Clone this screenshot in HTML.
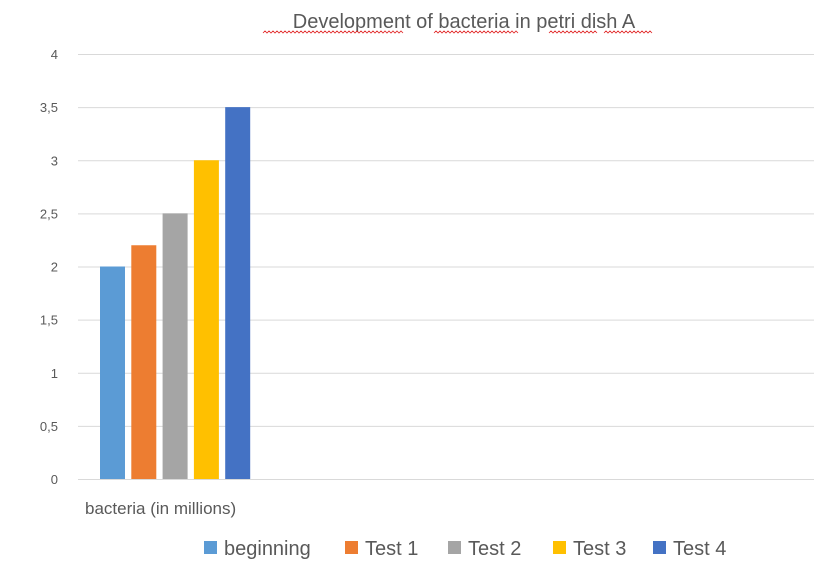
<!DOCTYPE html>
<html><head><meta charset="utf-8"><style>
body{margin:0;background:#fff;width:814px;height:562px;overflow:hidden}
svg{display:block;font-family:"Liberation Sans",sans-serif}
</style></head><body>
<svg id="chart" width="814" height="562">
<text x="464" y="28" text-anchor="middle" font-size="20" fill="#595959">Development of bacteria in petri dish A</text>
<g id="wavy"></g>
<g id="grid"></g>
<g id="yticks"></g>
<g id="bars"></g>
<text x="85" y="514" font-size="17" fill="#595959">bacteria (in millions)</text>
<g id="legend"></g>
</svg>
<script>
const series=["beginning","Test 1","Test 2","Test 3","Test 4"];
const values=[2,2.2,2.5,3,3.5];
const colors=["#5B9BD5","#ED7D31","#A5A5A5","#FFC000","#4472C4"];
const ticks=["0","0,5","1","1,5","2","2,5","3","3,5","4"];
const tickVals=[0,0.5,1,1.5,2,2.5,3,3.5,4];
const NS="http://www.w3.org/2000/svg";
function y(v){return 479-v*106.25;}
function xb(i){return 100+i*31.3;}
function mk(t,a,p){const e=document.createElementNS(NS,t);for(const k in a)e.setAttribute(k,a[k]);p.appendChild(e);return e;}
const grid=document.getElementById('grid'),yt=document.getElementById('yticks'),bars=document.getElementById('bars'),lg=document.getElementById('legend'),wv=document.getElementById('wavy');
tickVals.forEach((v,i)=>{
 const l=mk('line',{x1:78,x2:814,y1:y(v)+0.5,y2:y(v)+0.5,stroke:'#D9D9D9','stroke-width':1},grid);
 
 
 const t=mk('text',{x:58,y:y(v)+5,'text-anchor':'end','font-size':13,fill:'#595959'},yt);
 t.textContent=ticks[i];
 
 
});
values.forEach((v,i)=>{
 const r=mk('rect',{x:xb(i),y:y(v),width:25,height:y(0)-y(v),fill:colors[i]},bars);
 
 
});
const lx=[204,345,448,553,653];
series.forEach((s,i)=>{
 const r=mk('rect',{x:lx[i],y:541,width:13,height:13,fill:colors[i]},lg);
 
 
 const t=mk('text',{x:lx[i]+20,y:555,'font-size':20,fill:'#595959'},lg);
 t.textContent=s;
 
 
});
[[263,400],[434,518],[549,597],[604,652]].forEach(([a,b])=>{
 let d='M'+a+' 33';for(let x=a;x<b;x+=4)d+=' l2 -2 l2 2';
 const p=mk('path',{d:d,stroke:'#E02020','stroke-width':0.8,fill:'none'},wv);
 
 
});
</script>
</body></html>
